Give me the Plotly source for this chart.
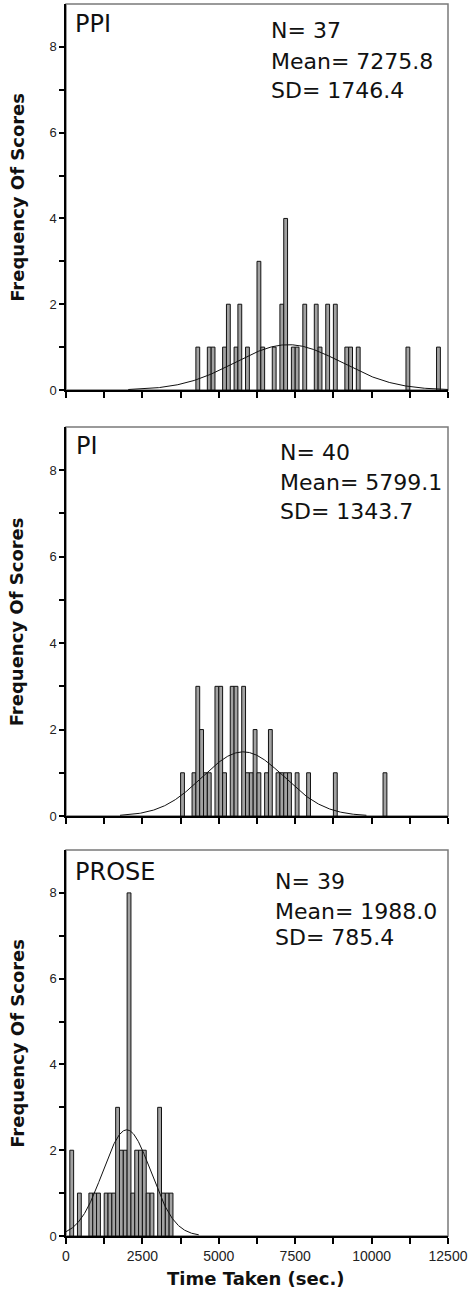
import numpy as np
import plotly.graph_objects as go

# ---------------- data ----------------
BIN_WIDTH = 125  # seconds per histogram bin

panel_labels = ["PPI", "PI", "PROSE"]
stats_n = [37, 40, 39]
stats_mean = [7275.8, 5799.1, 1988.0]
stats_sd = [1746.4, 1343.7, 785.4]

ppi_bins = [4250, 4625, 4750, 5125, 5250, 5500, 5625, 5875, 6250, 6375, 6750, 7000, 7125,
            7375, 7500, 7750, 8125, 8250, 8500, 8750, 9125, 9250, 9500, 11125, 12125]
ppi_counts = [1, 1, 1, 1, 2, 1, 2, 1, 3, 1, 1, 2, 4,
              1, 1, 2, 2, 1, 2, 2, 1, 1, 1, 1, 1]

pi_bins = [3750, 4125, 4250, 4375, 4500, 4625, 4875, 5000, 5125, 5375, 5500, 5750, 5875,
           6000, 6125, 6250, 6500, 6625, 6875, 7000, 7125, 7250, 7500, 7875, 8750, 10375]
pi_counts = [1, 1, 3, 2, 1, 1, 3, 3, 1, 3, 3, 3, 1,
             1, 2, 1, 1, 2, 1, 1, 1, 1, 1, 1, 1, 1]

prose_bins = [125, 375, 750, 875, 1000, 1250, 1375, 1500, 1625, 1750, 1875, 2000, 2125,
              2250, 2375, 2500, 2625, 2750, 3000, 3125, 3250, 3375]
prose_counts = [2, 1, 1, 1, 1, 1, 1, 1, 3, 2, 2, 8, 1,
                2, 2, 2, 1, 1, 3, 1, 1, 1]

x_tick_vals = [0, 1250, 2500, 3750, 5000, 6250, 7500, 8750, 10000, 11250, 12500]
x_tick_text = ["0", "", "2500", "", "5000", "", "7500", "", "10000", "", "12500"]
y_tick_vals = [0, 1, 2, 3, 4, 5, 6, 7, 8]
y_tick_text = ["0", "", "2", "", "4", "", "6", "", "8"]

x_title = "Time Taken (sec.)"
y_title = "Frequency Of Scores"

all_bins = [ppi_bins, pi_bins, prose_bins]
all_counts = [ppi_counts, pi_counts, prose_counts]

# ---------------- layout geometry ----------------
W, H = 472, 1303
ML, MR, MT, MB = 66, 18, 4, 67
PLOT_W = W - ML - MR
PLOT_H = H - MT - MB
BOTTOM = H - MB
panels_px = [(4, 390), (427, 816), (850, 1236)]


def dom(top, bot):
    return [(BOTTOM - bot) / PLOT_H, (BOTTOM - top) / PLOT_H]


label_off = [20.5, 18.8, 21.7]
stats_off = [[26, 58, 86], [25.5, 55.5, 84], [31.5, 61, 87]]
stats_x_px = [272, 281.7, 276.7]
label_x_px = [73, 74, 73]

ANN_FONT = "DejaVu Sans, Arial, sans-serif"
TICK_FONT = "Liberation Sans, Arial, sans-serif"
TITLE_FONT = "DejaVu Sans, Arial, sans-serif"

fig = go.Figure()
layout = dict(
    width=W, height=H,
    margin=dict(l=ML, r=MR, t=MT, b=MB),
    paper_bgcolor="white", plot_bgcolor="white",
    showlegend=False, barmode="overlay",
)
annotations = []
shapes = []

for i in range(3):
    k = "" if i == 0 else str(i + 1)
    xa, ya = "x" + k, "y" + k
    top, bot = panels_px[i]
    ph = bot - top

    fig.add_trace(go.Bar(
        x=all_bins[i], y=all_counts[i], width=BIN_WIDTH, offset=0,
        marker=dict(color="#a2a2a2", line=dict(color="#111111", width=1)),
        xaxis=xa, yaxis=ya,
    ))

    m, s, n = stats_mean[i], stats_sd[i], stats_n[i]
    xs = np.linspace(max(0.0, m - 3 * s), m + 3 * s, 400)
    ys = n * BIN_WIDTH * np.exp(-0.5 * ((xs - m) / s) ** 2) / (s * np.sqrt(2 * np.pi))
    fig.add_trace(go.Scatter(
        x=xs, y=ys, mode="lines", line=dict(color="#111111", width=1),
        xaxis=xa, yaxis=ya, hoverinfo="skip",
    ))

    layout["xaxis" + k] = dict(
        domain=[0, 1], range=[0, 12500], anchor=ya,
        tickmode="array", tickvals=x_tick_vals,
        ticktext=x_tick_text if i == 2 else [""] * len(x_tick_vals),
        showticklabels=(i == 2), ticklabeloverflow="allow",
        ticks="outside", ticklen=6, tickwidth=1.5, tickcolor="black",
        showline=True, linecolor="black", linewidth=1.5,
        showgrid=False, zeroline=False,
        tickfont=dict(family=TICK_FONT, size=14, color="#222222"),
    )
    layout["yaxis" + k] = dict(
        domain=dom(top, bot), range=[0, 9], anchor=xa,
        tickmode="array", tickvals=y_tick_vals, ticktext=y_tick_text,
        ticks="outside", ticklen=5, tickwidth=1.5, tickcolor="black",
        showline=True, linecolor="black", linewidth=1.5,
        showgrid=False, zeroline=False,
        tickfont=dict(family=TICK_FONT, size=13, color="#222222"),
    )

    shapes.append(dict(
        type="rect", xref=xa + " domain", yref=ya + " domain",
        x0=0, x1=1, y0=0, y1=1, line=dict(color="#7a7a7a", width=1.5),
        layer="below",
    ))

    annotations.append(dict(
        text=panel_labels[i], xref="paper", yref=ya + " domain",
        x=(label_x_px[i] - ML) / PLOT_W, y=1 - label_off[i] / ph,
        xanchor="left", yanchor="middle", showarrow=False,
        font=dict(family=ANN_FONT, size=24, color="#111111"),
    ))
    stat_lines = [f"N= {n}", f"Mean= {m:.1f}", f"SD= {s:.1f}"]
    for j, line in enumerate(stat_lines):
        annotations.append(dict(
            text=line, xref="paper", yref=ya + " domain",
            x=(stats_x_px[i] - ML) / PLOT_W, y=1 - stats_off[i][j] / ph,
            xanchor="left", yanchor="middle", showarrow=False,
            font=dict(family=ANN_FONT, size=22, color="#111111"),
        ))
    annotations.append(dict(
        text=f"<b>{y_title}</b>", xref="paper", yref=ya + " domain",
        x=(16 - ML) / PLOT_W, y=0.5, textangle=-90,
        xanchor="center", yanchor="middle", showarrow=False,
        font=dict(family=TITLE_FONT, size=18, color="#111111"),
    ))

annotations.append(dict(
    text=f"<b>{x_title}</b>", xref="paper", yref="paper",
    x=(258 - ML) / PLOT_W, y=(BOTTOM - 1278) / PLOT_H,
    xanchor="center", yanchor="middle", showarrow=False,
    font=dict(family=TITLE_FONT, size=18, color="#111111"),
))

layout["annotations"] = annotations
layout["shapes"] = shapes
fig.update_layout(**layout)
fig.write_html(
    "out.html",
    config={"displayModeBar": False},
    post_script="document.body.style.margin='0px';document.body.style.overflow='hidden';",
)
